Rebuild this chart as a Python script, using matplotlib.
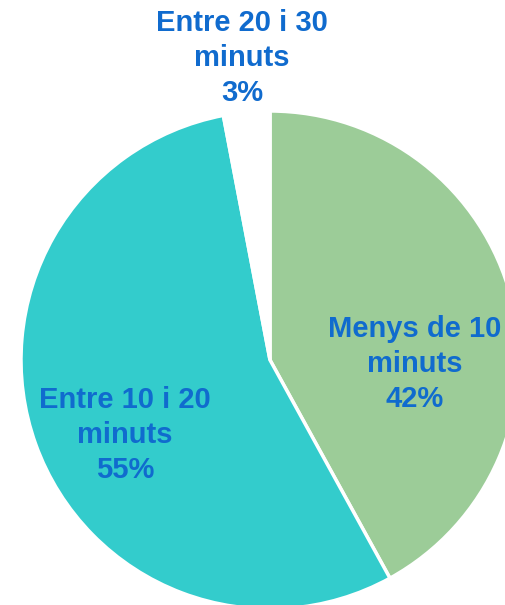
import matplotlib
matplotlib.use("Agg")
import matplotlib.pyplot as plt

categories = ["Menys de 10\nminuts", "Entre 10 i 20\nminuts", "Entre 20 i 30\nminuts"]
values = [42, 55, 3]
colors = ["#9CCC98", "#33CCCC", "#FFFFFF"]
label_color = "#106BCE"

W, H = 505, 605
cx, cy, R = 270, 360, 249  # pixel geometry of the pie

fig = plt.figure(figsize=(W / 100, H / 100), dpi=100)
ax = fig.add_axes([0, 0, 1, 1])
wedges, _ = ax.pie(values, colors=colors, startangle=90, counterclock=False,
                   radius=1.0, wedgeprops=dict(edgecolor="white", linewidth=2.5))
ax.set_xlim(-cx / R, (W - cx) / R)
ax.set_ylim(-(H - cy) / R, cy / R)
ax.set_aspect("equal")
ax.axis("off")

label_px = [(415, 364), (125, 435), (242, 58)]
for cat, v, (px, py) in zip(categories, values, label_px):
    ax.text((px - cx) / R, (cy - py) / R, f"{cat}\n{v}%", ha="center", va="center",
            fontsize=21, fontweight="bold", color=label_color,
            family=["Liberation Sans", "DejaVu Sans"], linespacing=1.3)

fig.savefig("out.png", dpi=100)
